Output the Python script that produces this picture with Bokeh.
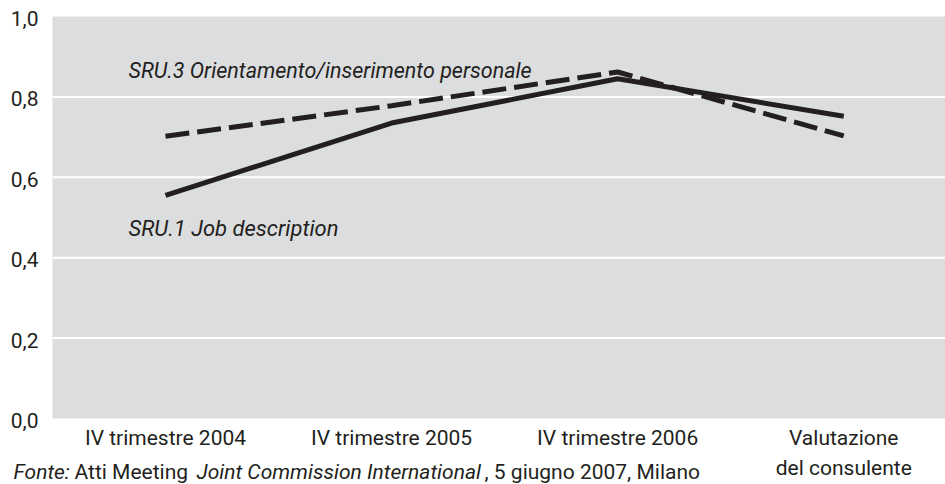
from bokeh.plotting import figure
from bokeh.models import Range1d, Label, BoxAnnotation
from bokeh.core.properties import value
from bokeh.embed import file_html
from bokeh.resources import INLINE

# ---- data ----
categories = ["IV trimestre 2004", "IV trimestre 2005", "IV trimestre 2006", "Valutazione\ndel consulente"]
sru1_values = [0.555, 0.735, 0.845, 0.752]
sru3_values = [0.702, 0.778, 0.862, 0.703]
y_ticks = [0.0, 0.2, 0.4, 0.6, 0.8, 1.0]
y_tick_labels = ["0,0", "0,2", "0,4", "0,6", "0,8", "1,0"]
grid_values = [0.2, 0.4, 0.6, 0.8]
sru1_name = "SRU.1 Job description"
sru3_name = "SRU.3 Orientamento/inserimento personale"
source_parts = [("Fonte:", "italic"), ("Atti Meeting", "normal"),
                ("Joint Commission International", "italic"), (", 5 giugno 2007, Milano", "normal")]

FONT = "Roboto"
INK = "#231f20"
x_pos = list(range(len(categories)))

# the frame covers the whole canvas; the grey plotting area is drawn inside it
X0, X1 = -0.7298, 3.4501
Y0, Y1 = -0.16418, 1.0398
AREA_LEFT = -0.5

p = figure(width=945, height=484, output_backend="svg", toolbar_location=None,
           x_range=Range1d(X0, X1), y_range=Range1d(Y0, Y1),
           x_axis_location=None, y_axis_location=None,
           min_border=0, min_border_left=0, min_border_right=0,
           min_border_top=0, min_border_bottom=0)
p.grid.visible = False
p.outline_line_color = None
p.background_fill_color = "white"
p.border_fill_color = "white"

p.add_layout(BoxAnnotation(left=AREA_LEFT, right=X1, bottom=0, top=1.0,
                           fill_color="#dcdddf", fill_alpha=1.0, line_color=None,
                           level="underlay"))

p.segment(x0=[AREA_LEFT] * len(grid_values), x1=[X1] * len(grid_values),
          y0=grid_values, y1=grid_values, line_color="white", line_width=2)

# y tick labels
p.text(x=[AREA_LEFT] * len(y_ticks), y=y_ticks, text=y_tick_labels,
       text_font=value(FONT), text_font_size="21px", text_color=INK,
       text_align="right", text_baseline="middle", x_offset=-14, y_offset=2)

# x tick labels
p.text(x=x_pos, y=[0] * len(x_pos), text=categories,
       text_font=value(FONT), text_font_size="21px", text_color=INK,
       text_align="center", text_baseline="top", y_offset=8, text_line_height=1.25)

p.line(x_pos, sru3_values, line_color=INK, line_width=5, line_dash="24 8")
p.line(x_pos, sru1_values, line_color=INK, line_width=5)

def px2x(px):
    return (px - 165) / 226.08

def py2y(py):
    return (418 - py) / 402.0

p.add_layout(Label(x=px2x(128), y=py2y(70), text=sru3_name, text_font=FONT,
                   text_font_style="italic", text_font_size="21.5px", text_color=INK,
                   text_baseline="alphabetic"))
p.add_layout(Label(x=px2x(128), y=py2y(228), text=sru1_name, text_font=FONT,
                   text_font_style="italic", text_font_size="22px", text_color=INK,
                   text_baseline="alphabetic"))

src_x = [13, 74, 196, 484]
for (txt, style), sx in zip(source_parts, src_x):
    p.add_layout(Label(x=px2x(sx), y=py2y(472), text=txt, text_font=FONT,
                       text_font_style=style, text_font_size="21px", text_color=INK,
                       text_baseline="alphabetic"))

open("out.html", "w").write(file_html(p, INLINE))
